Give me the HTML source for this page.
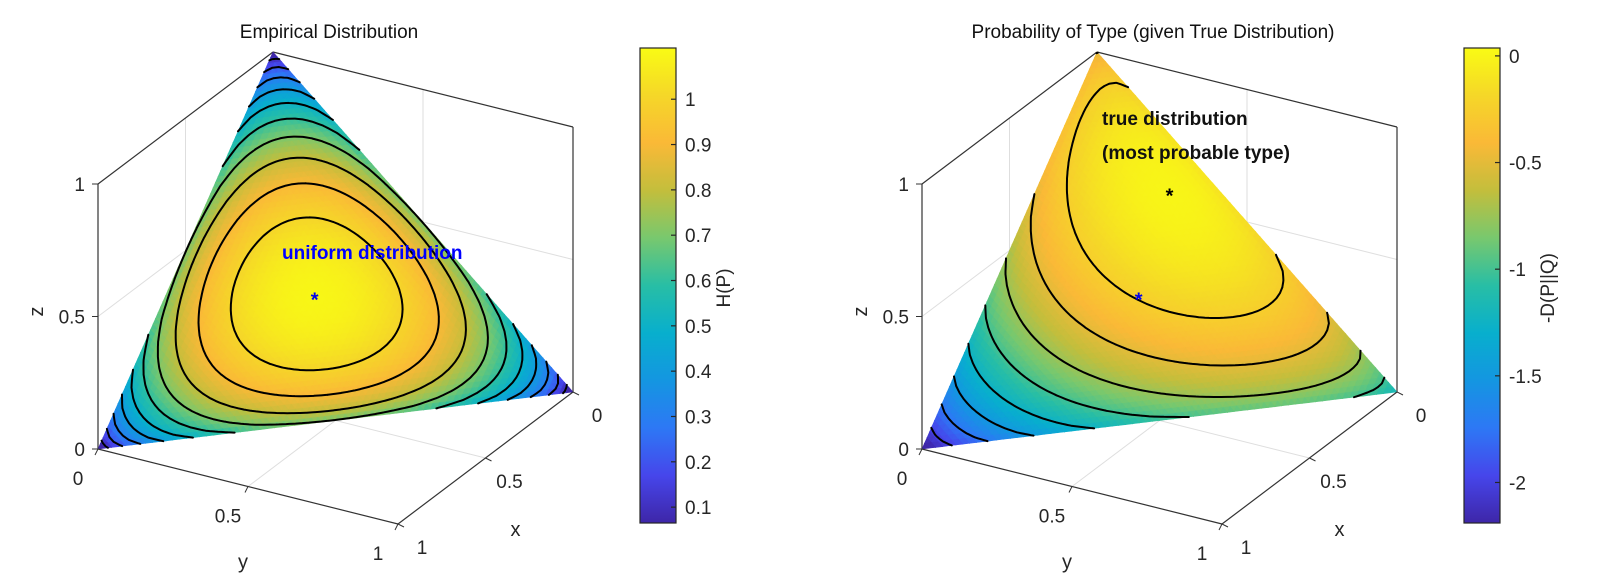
<!DOCTYPE html>
<html><head><meta charset="utf-8">
<style>
body{margin:0;background:#fff;}
svg{display:block;font-family:"Liberation Sans",sans-serif;}
</style></head>
<body>
<svg id="fig" width="1600" height="588" viewBox="0 0 1600 588" xmlns="http://www.w3.org/2000/svg">
<defs>
<linearGradient id="parula" x1="0" y1="1" x2="0" y2="0">
<stop offset="0" stop-color="rgb(62,38,168)"/><stop offset="0.1" stop-color="rgb(70,70,235)"/>
<stop offset="0.2" stop-color="rgb(45,120,245)"/><stop offset="0.3" stop-color="rgb(20,150,225)"/>
<stop offset="0.4" stop-color="rgb(8,175,205)"/><stop offset="0.5" stop-color="rgb(40,190,165)"/>
<stop offset="0.6" stop-color="rgb(120,200,110)"/><stop offset="0.7" stop-color="rgb(195,190,60)"/>
<stop offset="0.8" stop-color="rgb(250,185,55)"/><stop offset="0.9" stop-color="rgb(245,215,40)"/>
<stop offset="1" stop-color="rgb(249,251,20)"/>
</linearGradient>
</defs>
</svg>
<script>
// ---- data ----
const trueDist = [0.1, 0.3, 0.6];
const uniformDist = [1/3, 1/3, 1/3];
const levelsH = [0.1,0.2,0.3,0.4,0.5,0.6,0.7,0.8,0.9,1.0];
const levelsD = [-0.25,-0.5,-0.75,-1.0,-1.25,-1.5,-1.75,-2.0];
const axisTicks = [0, 0.5, 1];
const axisTickLabels = ["0","0.5","1"];
const cbarTicksH = [0.1,0.2,0.3,0.4,0.5,0.6,0.7,0.8,0.9,1];
const cbarTickLabelsH = ["0.1","0.2","0.3","0.4","0.5","0.6","0.7","0.8","0.9","1"];
const cbarTicksD = [-2,-1.5,-1,-0.5,0];
const cbarTickLabelsD = ["-2","-1.5","-1","-0.5","0"];
const climH = [0.065, 1.113];
const climD = [-2.19, 0.037];

const svg = document.getElementById('fig');
const NS = 'http://www.w3.org/2000/svg';
function mk(tag, attrs, parent){const e=document.createElementNS(NS,tag);for(const k in attrs)e.setAttribute(k,attrs[k]);(parent||svg).appendChild(e);return e;}

const stops=[[62,38,168],[70,70,235],[45,120,245],[20,150,225],[8,175,205],[40,190,165],[120,200,110],[195,190,60],[250,185,55],[245,215,40],[249,251,20]];
function parula(t){t=Math.max(0,Math.min(1,t))*10;const i=Math.min(9,Math.floor(t)),f=t-i;const a=stops[i],b=stops[i+1];
return 'rgb('+[0,1,2].map(k=>Math.round(a[k]+(b[k]-a[k])*f)).join(',')+')';}

function xlogx(p){return p>1e-12?p*Math.log(p):0;}
function entropy(p){return -(xlogx(p[0])+xlogx(p[1])+xlogx(p[2]));}
function negKL(p){let s=0;for(let k=0;k<3;k++){if(p[k]>1e-12)s+=p[k]*Math.log(p[k]/trueDist[k]);}return -s;}

function makePlot(dx, name, title, fn, levels, clim, cbTicks, cbLabels, cbTitle){
  const O=[273+dx,317], ex=[-175,132], ey=[300,75], ez=[0,-265];
  const P=(x,y,z)=>[O[0]+x*ex[0]+y*ey[0]+z*ez[0], O[1]+x*ex[1]+y*ey[1]+z*ez[1]];
  const g=mk('g',{});
  
  
  const gl=[[[0,0,0],[0,0,1]],[[0,0,0],[1,0,0]],[[0,0,0],[0,1,0]],
    [[0.5,0,0],[0.5,0,1]],[[0,0,0.5],[1,0,0.5]],[[0,0.5,0],[0,0.5,1]],[[0,0,0.5],[0,1,0.5]],
    [[0.5,0,0],[0.5,1,0]],[[0,0.5,0],[1,0.5,0]]];
  const grid=mk('g',{stroke:'#dedede','stroke-width':1,fill:'none'},g);
  
  
  gl.forEach(l=>{const a=P(...l[0]),b=P(...l[1]);mk('line',{x1:a[0],y1:a[1],x2:b[0],y2:b[1]},grid);});
  const bl=[[[1,0,0],[1,0,1]],[[1,0,1],[0,0,1]],[[0,0,1],[0,1,1]],[[0,1,1],[0,1,0]]];
  const box=mk('g',{stroke:'#333','stroke-width':1.2},g);
  
  
  bl.forEach(l=>{const a=P(...l[0]),b=P(...l[1]);mk('line',{x1:a[0],y1:a[1],x2:b[0],y2:b[1]},box);});
  const N=70;
  const surf=mk('g',{},g);
  
  
  const cont=[];
  function tri(pts){
    const vals=pts.map(p=>fn(p));
    const sc=pts.map(p=>P(p[0],p[1],p[2]));
    const m=(vals[0]+vals[1]+vals[2])/3;
    const col=parula((m-clim[0])/(clim[1]-clim[0]));
    mk('polygon',{points:sc.map(s=>s[0].toFixed(1)+','+s[1].toFixed(1)).join(' '),fill:col,stroke:col,'stroke-width':0.6},surf);
    levels.forEach(L=>{const c=[];
      for(let e=0;e<3;e++){const a=e,b=(e+1)%3;const va=vals[a]-L,vb=vals[b]-L;
        if((va<0&&vb>=0)||(va>=0&&vb<0)){const t=va/(va-vb);c.push([sc[a][0]+t*(sc[b][0]-sc[a][0]),sc[a][1]+t*(sc[b][1]-sc[a][1])]);}}
      if(c.length===2)cont.push('M'+c[0][0].toFixed(1)+' '+c[0][1].toFixed(1)+'L'+c[1][0].toFixed(1)+' '+c[1][1].toFixed(1));});
  }
  for(let i=0;i<N;i++)for(let j=0;i+j<N;j++){
    const b=(a,c)=>[a/N,c/N,1-a/N-c/N];
    tri([b(i,j),b(i+1,j),b(i,j+1)]);
    if(i+j+2<=N)tri([b(i+1,j),b(i,j+1),b(i+1,j+1)]);
  }
  const cp=mk('path',{d:cont.join(''),stroke:'#000','stroke-width':2,fill:'none','stroke-linecap':'round'},g);
  
  
  const ax=mk('g',{stroke:'#333','stroke-width':1.2},g);
  
  
  [[[1,0,0],[1,1,0]],[[1,1,0],[0,1,0]]].forEach(l=>{const a=P(...l[0]),b=P(...l[1]);mk('line',{x1:a[0],y1:a[1],x2:b[0],y2:b[1]},ax);});
  const txt=(x,y,s,attrs,nm)=>{const t=mk('text',Object.assign({x:x,y:y,'font-size':19,fill:'#262626'},attrs||{}),g);t.textContent=s;
    
    return t;};
  axisTicks.forEach((v,k)=>{
    const pz=P(1,0,v);mk('line',{x1:pz[0]-6,y1:pz[1],x2:pz[0],y2:pz[1],stroke:'#333'},g);
    txt(pz[0]-13,pz[1]+7,axisTickLabels[k],{'text-anchor':'end'},'z-tick-label');
    const py=P(1,v,0);mk('line',{x1:py[0]-3,y1:py[1]+6,x2:py[0],y2:py[1],stroke:'#333'},g);
    txt(py[0]-20,py[1]+36,axisTickLabels[k],{'text-anchor':'middle'},'y-tick-label');
    const px=P(1-v,1,0);mk('line',{x1:px[0]+6,y1:px[1]+3,x2:px[0],y2:px[1],stroke:'#333'},g);
    txt(px[0]+24,px[1]+30,axisTickLabels[axisTicks.length-1-k],{'text-anchor':'middle'},'x-tick-label');
  });
  const ymid=P(1,0.5,0), xmid=P(0.5,1,0);
  txt(ymid[0]-5,ymid[1]+82,'y',{'text-anchor':'middle','font-size':20},'y-axis-title');
  txt(xmid[0]+30,xmid[1]+78,'x',{'text-anchor':'middle','font-size':20},'x-axis-title');
  const zm=P(1,0,0.5);
  txt(zm[0]-62,zm[1]+2,'z',{'text-anchor':'middle','font-size':20,transform:'rotate(-90 '+(zm[0]-62)+' '+(zm[1]-5)+')'},'z-axis-title');
  txt(O[0]+56,38,title,{'text-anchor':'middle','font-size':19,fill:'#111'},'plot-title');
  const cbx=640+dx, cbt=48, cbb=523;
  const cb=mk('rect',{x:cbx,y:cbt,width:36,height:cbb-cbt,fill:'url(#parula)',stroke:'#262626','stroke-width':1.2},g);
  
  
  const cy=v=>cbb-(v-clim[0])/(clim[1]-clim[0])*(cbb-cbt);
  cbTicks.forEach((v,k)=>{const y=cy(v);
    mk('line',{x1:cbx+36,y1:y,x2:cbx+31,y2:y,stroke:'#262626','stroke-width':1.2},g);
    txt(cbx+45,y+7,cbLabels[k],{},'colorbar-tick-label');});
  txt(cbx+90,288,cbTitle,{'text-anchor':'middle',transform:'rotate(-90 '+(cbx+90)+' 288)'},'colorbar-title');
  return {P:P,txt:txt,g:g};
}

const L=makePlot(0,'entropy-plot','Empirical Distribution',entropy,levelsH,climH,cbarTicksH,cbarTickLabelsH,'H(P)');
const R=makePlot(824,'kl-plot','Probability of Type (given True Distribution)',negKL,levelsD,climD,cbarTicksD,cbarTickLabelsD,'-D(P||Q)');

function star(plot,p,color,nm){const s=plot.P(p[0],p[1],p[2]);
  const t=mk('text',{x:s[0],y:s[1]+9,'font-size':20,'text-anchor':'middle',fill:color,'font-weight':'bold'},plot.g);
  t.textContent='*';
  
  }
star(L,uniformDist,'#0000ee','uniform-star');
star(R,uniformDist,'#0000ee','uniform-star');
star(R,trueDist,'#000','true-distribution-star');
L.txt(282,259,'uniform distribution',{'font-weight':'bold',fill:'#0000ff','font-size':19},'uniform-annotation');
R.txt(1102,125,'true distribution',{'font-weight':'bold',fill:'#111','font-size':19},'true-annotation');
R.txt(1102,159,'(most probable type)',{'font-weight':'bold',fill:'#111','font-size':19},'true-annotation-sub');
</script>
</body></html>
